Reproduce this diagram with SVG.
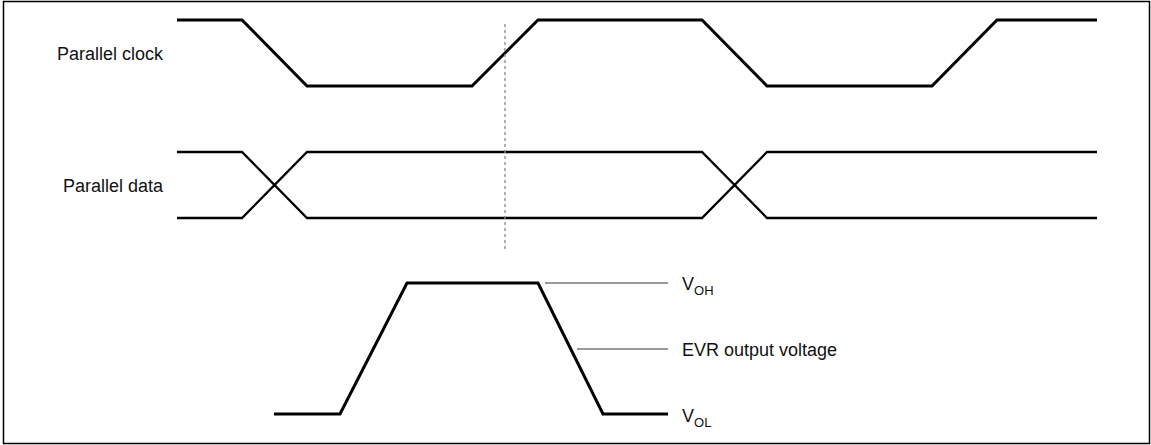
<svg xmlns="http://www.w3.org/2000/svg" width="1151" height="445" viewBox="0 0 1151 445">
<style>
.lbl{font-family:"Liberation Sans",Arial,sans-serif;font-size:18px;fill:#111}
.sub{font-size:13px}
.sig{fill:none;stroke:#000;stroke-linejoin:miter}
.thick{stroke-width:3}
.thin{stroke-width:2.3}
.lead{fill:none;stroke:#777;stroke-width:1.5}
</style>
<rect x="3.5" y="1.5" width="1146" height="442" fill="#fff" stroke="#000" stroke-width="1.5"/>
<g id="clock">
<text class="lbl" x="163" y="60" text-anchor="end">Parallel clock</text>
<polyline class="sig thick" points="177,20 242,20 307,86 472,86 538,20 702,20 767,86 932,86 997,20 1097,20"/>
</g>
<g id="data">
<text class="lbl" x="163" y="192" text-anchor="end">Parallel data</text>
<polyline class="sig thin" points="177,152 242,152 307,218 702,218 767,152 1097,152"/>
<polyline class="sig thin" points="177,218 242,218 307,152 702,152 767,218 1097,218"/>
</g>
<g id="marker">
<line x1="505" y1="24" x2="505" y2="250" stroke="#888" stroke-width="1.3" stroke-dasharray="3 3"/>
</g>
<g id="evr">
<polyline class="sig thick" points="274,414 340,414 407,283 538,283 603,414 668,414"/>
</g>
<g id="connectors">
<line class="lead" x1="545" y1="283" x2="668" y2="283"/>
<line class="lead" x1="577" y1="349" x2="668" y2="349"/>
</g>
<g id="voh">
<text class="lbl" x="682" y="290">V<tspan class="sub" dy="5">OH</tspan></text>
</g>
<g id="evr-label">
<text class="lbl" x="682" y="356">EVR output voltage</text>
</g>
<g id="vol">
<text class="lbl" x="682" y="422">V<tspan class="sub" dy="5">OL</tspan></text>
</g>
</svg>
